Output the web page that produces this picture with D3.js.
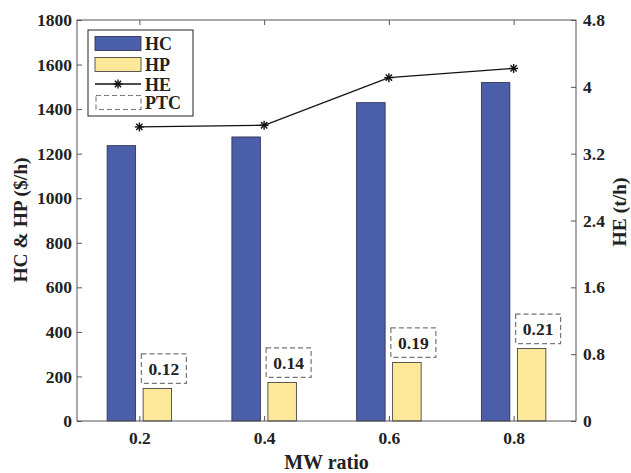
<html>
<head>
<script src="https://d3js.org/d3.v7.min.js"></script>
<style>
  body { margin: 0; background: #fff; }
  text { font-family: "Liberation Serif", "Times New Roman", serif; font-weight: bold; fill: #222; }
</style>
</head>
<body>
<svg id="chart" width="631" height="473"></svg>
<script>
// data
const ratios = [0.2, 0.4, 0.6, 0.8];
const hcValues = [1236, 1275, 1429, 1519];
const hpValues = [146, 173, 263, 325];
const heValues = [3.52, 3.54, 4.11, 4.22];
const ptcLabels = ["0.12", "0.14", "0.19", "0.21"];
const leftTicks = [0, 200, 400, 600, 800, 1000, 1200, 1400, 1600, 1800];
const rightTicks = [0, 0.8, 1.6, 2.4, 3.2, 4, 4.8];

const plotL = 77, plotR = 576, plotT = 20, plotB = 421;
const svg = d3.select("#chart");

const x = d3.scaleLinear().domain([0.1, 0.9]).range([plotL, plotR]);
const yL = d3.scaleLinear().domain([0, 1800]).range([plotB, plotT]);
const yR = d3.scaleLinear().domain([0, 4.8]).range([plotB, plotT]);

const barW = 28.5, off = 18;
const axisCol = "#555";

// bars
svg.selectAll(".hc").data(ratios).enter().append("rect")
  .attr("x", d => x(d) - off - barW / 2)
  .attr("y", (d, i) => yL(hcValues[i]))
  .attr("width", barW)
  .attr("height", (d, i) => yL(0) - yL(hcValues[i]))
  .attr("fill", "#4a5ea9").attr("stroke", "#2a2a4a").attr("stroke-width", 0.8);

svg.selectAll(".hp").data(ratios).enter().append("rect")
  .attr("x", d => x(d) + off - barW / 2)
  .attr("y", (d, i) => yL(hpValues[i]))
  .attr("width", barW)
  .attr("height", (d, i) => yL(0) - yL(hpValues[i]))
  .attr("fill", "#fde89a").attr("stroke", "#333").attr("stroke-width", 0.8);

// PTC dashed boxes
const boxW = 45, boxH = 29.5;
svg.selectAll(".ptcbox").data(ratios).enter().append("rect")
  .attr("x", d => x(d) + 2)
  .attr("y", (d, i) => yL(hpValues[i]) - 5 - boxH)
  .attr("width", boxW).attr("height", boxH)
  .attr("fill", "none").attr("stroke", "#777").attr("stroke-width", 1.2)
  .attr("stroke-dasharray", "5,3");

svg.selectAll(".ptctext").data(ratios).enter().append("text")
  .attr("x", d => x(d) + 2 + boxW / 2)
  .attr("y", (d, i) => yL(hpValues[i]) - 5 - boxH / 2 + 6)
  .attr("text-anchor", "middle")
  .style("font-size", "17.5px")
  .text((d, i) => ptcLabels[i]);

// HE line
const heData = ratios.map((r, i) => [r, heValues[i]]);
svg.append("path").datum(heData)
  .attr("fill", "none").attr("stroke", "#111").attr("stroke-width", 1.3)
  .attr("d", d3.line().x(d => x(d[0])).y(d => yR(d[1])));

function star(g, cx, cy) {
  const r = 4.5;
  [[0, 1], [1, 0], [0.7, 0.7], [0.7, -0.7]].forEach(([a, b]) => {
    g.append("line").attr("x1", cx - a * r).attr("y1", cy - b * r)
      .attr("x2", cx + a * r).attr("y2", cy + b * r)
      .attr("stroke", "#111").attr("stroke-width", 1.4);
  });
}
heData.forEach(d => star(svg, x(d[0]), yR(d[1])));

// frame
svg.append("rect").attr("x", plotL).attr("y", plotT)
  .attr("width", plotR - plotL).attr("height", plotB - plotT)
  .attr("fill", "none").attr("stroke", axisCol).attr("stroke-width", 1);

// axes
const gx = svg.append("g").attr("transform", `translate(0,${plotB})`)
  .call(d3.axisBottom(x).tickValues(ratios).tickSize(-5).tickPadding(11).tickFormat(d3.format(".1f")));
const gxt = svg.append("g").attr("transform", `translate(0,${plotT})`)
  .call(d3.axisTop(x).tickValues(ratios).tickSize(-5).tickFormat(""));
const gl = svg.append("g").attr("transform", `translate(${plotL},0)`)
  .call(d3.axisLeft(yL).tickValues(leftTicks).tickSize(-5).tickPadding(5).tickFormat(d3.format("d")));
const gr = svg.append("g").attr("transform", `translate(${plotR},0)`)
  .call(d3.axisRight(yR).tickValues(rightTicks).tickSize(-5).tickPadding(7).tickFormat(d => String(d)));

[gx, gxt, gl, gr].forEach(g => {
  g.select(".domain").remove();
  g.selectAll(".tick line").attr("stroke", axisCol);
  g.selectAll(".tick text").style("font-size", "17.5px").style("font-family", "Liberation Serif").style("font-weight", "bold").attr("fill", "#222");
});

// axis titles
svg.append("text").attr("x", (plotL + plotR) / 2).attr("y", 469)
  .attr("text-anchor", "middle").style("font-size", "20px").text("MW ratio");
svg.append("text").attr("transform", `translate(27,220) rotate(-90)`)
  .attr("text-anchor", "middle").style("font-size", "19.5px").text("HC & HP ($/h)");
svg.append("text").attr("transform", `translate(626,212) rotate(-90)`)
  .attr("text-anchor", "middle").style("font-size", "19.5px").text("HE (t/h)");

// legend
const lg = svg.append("g");
lg.append("rect").attr("x", 88).attr("y", 30).attr("width", 105).attr("height", 86)
  .attr("fill", "#fff").attr("stroke", "#222").attr("stroke-width", 1);
const rowY = [43.5, 64.5, 84, 102.5];
lg.append("rect").attr("x", 95).attr("y", rowY[0] - 7).attr("width", 46).attr("height", 14)
  .attr("fill", "#4a5ea9").attr("stroke", "#2a2a4a").attr("stroke-width", 0.8);
lg.append("rect").attr("x", 95).attr("y", rowY[1] - 7).attr("width", 46).attr("height", 14)
  .attr("fill", "#fde89a").attr("stroke", "#333").attr("stroke-width", 0.8);
lg.append("line").attr("x1", 95).attr("x2", 141).attr("y1", rowY[2]).attr("y2", rowY[2])
  .attr("stroke", "#111").attr("stroke-width", 1.3);
star(lg, 118, rowY[2]);
lg.append("rect").attr("x", 96).attr("y", rowY[3] - 7).attr("width", 45).attr("height", 14)
  .attr("fill", "none").attr("stroke", "#777").attr("stroke-width", 1.1).attr("stroke-dasharray", "5,3");
["HC", "HP", "HE", "PTC"].forEach((t, i) => {
  lg.append("text").attr("x", 145).attr("y", rowY[i] + 6.5).style("font-size", "18px").text(t);
});
</script>
</body>
</html>
